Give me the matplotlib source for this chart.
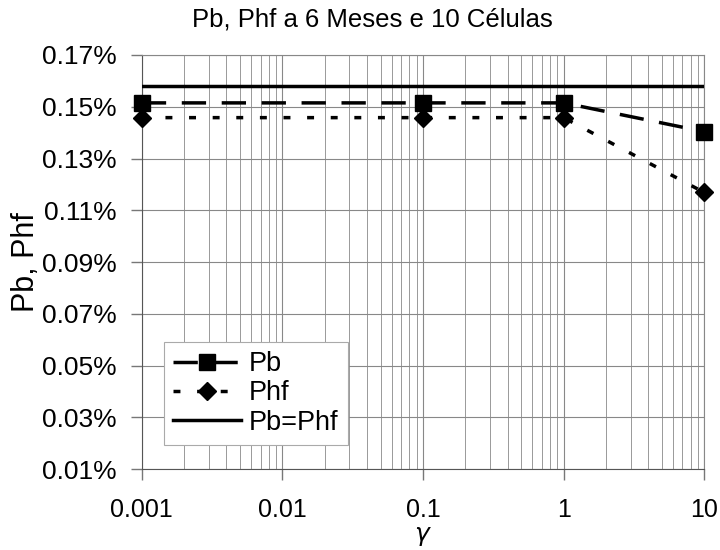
import matplotlib
matplotlib.use("Agg")
import matplotlib.pyplot as plt
from matplotlib.ticker import FixedLocator, FuncFormatter, LogLocator, NullFormatter

plt.rcParams['font.family'] = ['Liberation Sans', 'DejaVu Sans']

gamma = [0.001, 0.1, 1, 10]
pb = [0.1515, 0.1515, 0.1515, 0.1404]
phf = [0.1458, 0.1458, 0.1458, 0.1169]
ref_x = [0.001, 10]
ref_y = [0.1581, 0.1581]
yticks = [0.01, 0.03, 0.05, 0.07, 0.09, 0.11, 0.13, 0.15, 0.17]
xticks = [0.001, 0.01, 0.1, 1, 10]
xlabels = ["0.001", "0.01", "0.1", "1", "10"]

fig = plt.figure(figsize=(7.2, 5.5), dpi=100)
ax = fig.add_axes([0.197, 0.147, 0.781, 0.753])

ax.plot(gamma, pb, color='black', lw=2.5, ls=(0, (7, 4.5)), marker='s', ms=11,
        label='Pb', clip_on=False, zorder=4)
ax.plot(gamma, phf, color='black', lw=2.5, ls=(0, (2, 4.8)), marker='D', ms=9,
        label='Phf', clip_on=False, zorder=4)
ax.plot(ref_x, ref_y, color='black', lw=2.5, label='Pb=Phf', zorder=3)

ax.set_xscale('log')
ax.set_xlim(0.001, 10)
ax.set_ylim(0.01, 0.17)
ax.xaxis.set_major_locator(FixedLocator(xticks))
ax.set_xticklabels(xlabels)
ax.xaxis.set_minor_locator(LogLocator(base=10, subs=range(2, 10), numticks=20))
ax.xaxis.set_minor_formatter(NullFormatter())
ax.set_yticks(yticks)
ax.yaxis.set_major_formatter(FuncFormatter(lambda v, p: "%.2f%%" % v))

ax.grid(True, which='major', color='#888888', lw=0.8)
ax.grid(True, which='minor', axis='x', color='#999999', lw=0.7)
ax.set_axisbelow(True)

ax.tick_params(axis='both', which='major', direction='out', length=8,
               color='#777777', width=1)
ax.tick_params(axis='x', which='minor', length=0)
ax.tick_params(axis='x', labelsize=18, pad=13)
ax.tick_params(axis='y', labelsize=19, pad=10)
for s in ax.spines.values():
    s.set_color('#888888')
ax.spines['left'].set_color('#555555')
ax.spines['bottom'].set_color('#555555')

fig.text(0.517, 0.964, "Pb, Phf a 6 Meses e 10 Células", fontsize=18.5,
         ha='center', va='center')
ax.set_ylabel("Pb, Phf", fontsize=22)
ax.yaxis.set_label_coords(-0.18, 0.5)
ax.set_xlabel(r"$\gamma$", fontsize=18, labelpad=2, family='DejaVu Serif')

leg = ax.legend(loc='lower left', bbox_to_anchor=(0.039, 0.058), fontsize=19.5,
                fancybox=False, framealpha=1, edgecolor='#aaaaaa',
                handlelength=2.5, borderpad=0.35, labelspacing=0.12,
                handletextpad=0.3, borderaxespad=0)
leg.get_frame().set_linewidth(0.8)

fig.savefig("out.png", dpi=100)
